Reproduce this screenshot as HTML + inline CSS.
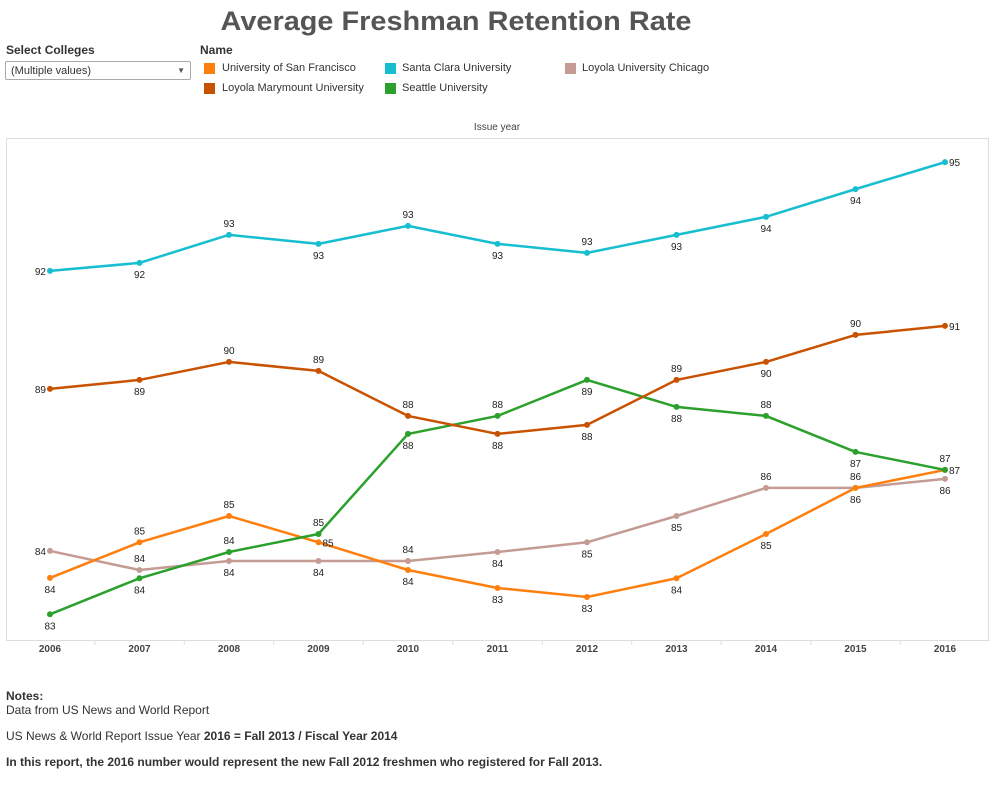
<!DOCTYPE html>
<html><head><meta charset="utf-8"><style>
body{margin:0;width:997px;height:799px;background:#fff;font-family:"Liberation Sans",sans-serif;position:relative;overflow:hidden}
.a{position:absolute;white-space:nowrap}
.sw{position:absolute;width:11px;height:11px}
.lg{font-size:11px;color:#333}
</style></head><body>
<div class="a" style="left:206px;top:6px;width:500px;text-align:center;font-size:27px;font-weight:bold;color:#555;transform:scaleX(1.07)">Average Freshman Retention Rate</div>
<div class="a" style="left:6px;top:43px;font-size:12px;font-weight:bold;color:#333">Select Colleges</div>
<div class="a" style="left:5px;top:61px;border:1px solid #aaa;border-radius:2px;font-size:11px;color:#333;line-height:18px;padding-left:5px;box-sizing:border-box;width:186px;height:19px">(Multiple values)<span style="position:absolute;right:5px;top:0;font-size:8px;color:#555">▼</span></div>
<div class="a" style="left:200px;top:43px;font-size:12px;font-weight:bold;color:#333">Name</div>
<div><div class="sw" style="left:204px;top:63px;background:#ff7f0e"></div><div class="a lg" style="left:222px;top:62px">University of San Francisco</div></div>
<div><div class="sw" style="left:385px;top:63px;background:#17becf"></div><div class="a lg" style="left:402px;top:62px">Santa Clara University</div></div>
<div><div class="sw" style="left:565px;top:63px;background:#c49c94"></div><div class="a lg" style="left:582px;top:62px">Loyola University Chicago</div></div>
<div><div class="sw" style="left:204px;top:83px;background:#c85200"></div><div class="a lg" style="left:222px;top:82px">Loyola Marymount University</div></div>
<div><div class="sw" style="left:385px;top:83px;background:#2ca02c"></div><div class="a lg" style="left:402px;top:82px">Seattle University</div></div>
<div class="a" style="left:447px;top:122px;width:100px;text-align:center;font-size:10px;color:#444">Issue year</div>
<svg id="chart" width="997" height="799" style="position:absolute;left:0;top:0" xmlns="http://www.w3.org/2000/svg"></svg>
<div class="a" style="left:6px;top:689px;font-size:12px;font-weight:bold;color:#333">Notes:</div>
<div class="a" style="left:6px;top:703px;font-size:12px;color:#333">Data from US News and World Report</div>
<div class="a" style="left:6px;top:729px;font-size:12px;color:#333">US News &amp; World Report Issue Year <b>2016 = Fall 2013 / Fiscal Year 2014</b></div>
<div class="a" style="left:6px;top:755px;font-size:12px;font-weight:bold;color:#333">In this report, the 2016 number would represent the new Fall 2012 freshmen who registered for Fall 2013.</div>
<script>
const years=[2006,2007,2008,2009,2010,2011,2012,2013,2014,2015,2016];
const seriesNames=["Santa Clara University","Loyola Marymount University","Seattle University","University of San Francisco","Loyola University Chicago"];
const scu=[92.06,92.28,93.06,92.81,93.31,92.81,92.56,93.06,93.56,94.33,95.08];
const lmu=[88.78,89.03,89.53,89.28,88.03,87.53,87.78,89.03,89.53,90.28,90.53];
const seattle=[82.52,83.52,84.25,84.75,87.53,88.03,89.03,88.28,88.03,87.03,86.53];
const usf=[83.53,84.52,85.25,84.52,83.75,83.25,83.0,83.52,84.75,86.03,86.53];
const luc=[84.28,83.75,84.0,84.0,84.0,84.25,84.52,85.25,86.03,86.03,86.28];
// label placement: l=left r=right a=above b=below
const scuPos="lbabababbbr", lmuPos="lbaaabbabar", seaPos="bbaababbaba", usfPos="baarbbbbbar", lucPos="labbabbbabb";
const svg=document.getElementById('chart');
const NS='http://www.w3.org/2000/svg';
const X0=50,X1=945,x=i=>X0+(X1-X0)*i/(years.length-1);
const y=v=>543-(v-84.5)*36;
function mk(t,a){const e=document.createElementNS(NS,t);for(const k in a)e.setAttribute(k,a[k]);svg.appendChild(e);return e;}
const frame=mk('rect',{x:6.5,y:138.5,width:982,height:502,fill:'none',stroke:'#ddd'});


years.forEach((yr,i)=>{
  const t=mk('text',{x:x(i),y:652,'text-anchor':'middle','font-size':10,'font-weight':'bold',fill:'#444','font-family':'Liberation Sans, sans-serif'});
  t.textContent=yr;
  
  
  if(i>0){const l=mk('line',{x1:(x(i)+x(i-1))/2,x2:(x(i)+x(i-1))/2,y1:640,y2:645,stroke:'#ddd'});}
});
const defs=[[scu,'#17becf','scu',scuPos],[lmu,'#c85200','lmu',lmuPos],[seattle,'#2ca02c','seattle',seaPos],[usf,'#ff7f0e','usf',usfPos],[luc,'#c49c94','luc',lucPos]];
defs.slice().reverse().forEach(([d,c,n])=>{
  const p=mk('polyline',{points:d.map((v,i)=>x(i)+','+y(v)).join(' '),fill:'none',stroke:c,'stroke-width':2.5,'stroke-linejoin':'round'});
  
  
  d.forEach((v,i)=>{const m=mk('circle',{cx:x(i),cy:y(v),r:3,fill:c});
    
    });
});
defs.forEach(([d,c,n,pos])=>{
  d.forEach((v,i)=>{
    const ps=pos[i];let tx=x(i),ty=y(v)+4,anc='middle';
    if(ps==='l'){tx-=4;anc='end';}else if(ps==='r'){tx+=4;anc='start';}
    else if(ps==='a'){ty=y(v)-8;}else{ty=y(v)+15;}
    const t=mk('text',{x:tx,y:ty,'text-anchor':anc,'font-size':10,fill:'#222','font-family':'Liberation Sans, sans-serif'});
    t.textContent=Math.round(v);
    
    
  });
});
</script>
</body></html>
